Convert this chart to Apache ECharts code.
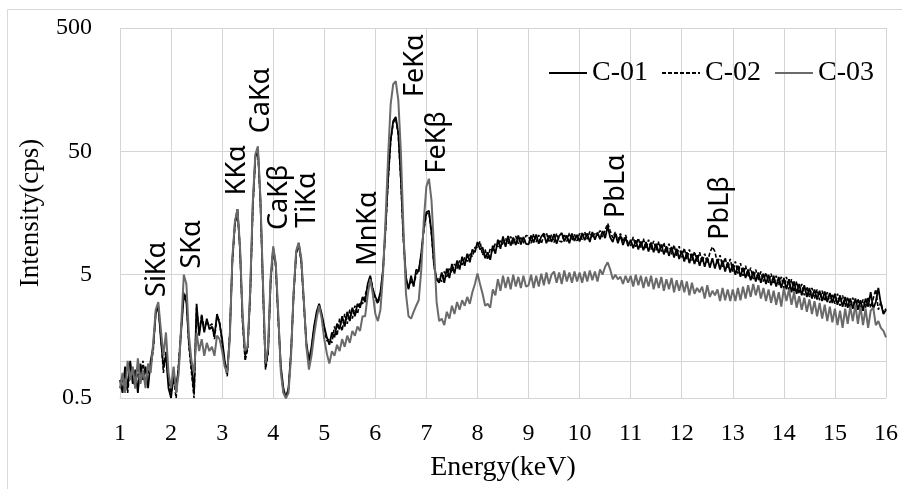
<!DOCTYPE html>
<html><head><meta charset="utf-8">
<script src="https://cdn.jsdelivr.net/npm/echarts@6/dist/echarts.min.js"></script>
<style>html,body{margin:0;padding:0;background:#fff}#c{width:902px;height:489px}</style>
</head><body><div id="c"></div>
<script>
// Energy axis samples (keV)
const energy = [
1,1.05,1.1,1.15,1.2,1.25,1.3,1.35,1.4,1.45,1.5,1.55,1.6,1.65,1.7,1.75,1.8,1.85,1.9,1.95,
2,2.05,2.1,2.15,2.2,2.25,2.3,2.35,2.4,2.45,2.5,2.55,2.6,2.65,2.7,2.75,2.8,2.85,2.9,2.95,
3,3.05,3.1,3.15,3.2,3.25,3.3,3.35,3.4,3.45,3.5,3.55,3.6,3.65,3.7,3.75,3.8,3.85,3.9,3.95,
4,4.05,4.1,4.15,4.2,4.25,4.3,4.35,4.4,4.45,4.5,4.55,4.6,4.65,4.7,4.75,4.8,4.85,4.9,4.95,
5,5.05,5.1,5.15,5.2,5.25,5.3,5.35,5.4,5.45,5.5,5.55,5.6,5.65,5.7,5.75,5.8,5.85,5.9,5.95,
6,6.05,6.1,6.15,6.2,6.25,6.3,6.35,6.4,6.45,6.5,6.55,6.6,6.65,6.7,6.75,6.8,6.85,6.9,6.95,
7,7.05,7.1,7.15,7.2,7.25,7.3,7.35,7.4,7.45,7.5,7.55,7.6,7.65,7.7,7.75,7.8,7.85,7.9,7.95,
8,8.05,8.1,8.15,8.2,8.25,8.3,8.35,8.4,8.45,8.5,8.55,8.6,8.65,8.7,8.75,8.8,8.85,8.9,8.95,
9,9.05,9.1,9.15,9.2,9.25,9.3,9.35,9.4,9.45,9.5,9.55,9.6,9.65,9.7,9.75,9.8,9.85,9.9,9.95,
10,10.05,10.1,10.15,10.2,10.25,10.3,10.35,10.4,10.45,10.5,10.55,10.6,10.65,10.7,10.75,10.8,10.85,10.9,10.95,
11,11.05,11.1,11.15,11.2,11.25,11.3,11.35,11.4,11.45,11.5,11.55,11.6,11.65,11.7,11.75,11.8,11.85,11.9,11.95,
12,12.05,12.1,12.15,12.2,12.25,12.3,12.35,12.4,12.45,12.5,12.55,12.6,12.65,12.7,12.75,12.8,12.85,12.9,12.95,
13,13.05,13.1,13.15,13.2,13.25,13.3,13.35,13.4,13.45,13.5,13.55,13.6,13.65,13.7,13.75,13.8,13.85,13.9,13.95,
14,14.05,14.1,14.15,14.2,14.25,14.3,14.35,14.4,14.45,14.5,14.55,14.6,14.65,14.7,14.75,14.8,14.85,14.9,14.95,
15,15.05,15.1,15.15,15.2,15.25,15.3,15.35,15.4,15.45,15.5,15.55,15.6,15.65,15.7,15.75,15.8,15.85,15.9,15.95,16
];
// C-01 intensity (cps)
const c01 = [
0.7,0.55,0.9,0.6,1.0,0.65,0.85,0.55,0.95,0.7,0.9,0.6,1.0,1.3,2.4,2.8,1.5,0.9,1.1,0.6,
0.5,0.8,0.6,0.9,1.8,3.4,3.0,1.4,0.9,0.55,2.9,1.6,2.3,1.7,2.2,1.8,1.9,1.6,2.4,2.0,
1.5,1.0,0.8,1.6,6.5,13,17,8,2.2,1.1,1.3,3.5,18,45,52,20,4,0.9,1.2,4.5,
8.2,6.0,2.2,0.9,0.6,0.5,0.6,1.2,3.5,7.5,9.0,6.5,3.0,1.4,1.0,1.3,1.9,2.5,2.9,2.4,
1.9,1.55,1.35,1.7,1.55,2.0,1.8,2.3,1.9,2.5,2.1,2.7,2.3,2.9,2.7,3.3,3.0,4.2,4.9,3.8,
3.3,3.0,3.6,5.5,12,30,62,88,95,70,30,10,4.8,3.8,4.9,4.0,5.5,5.3,7.5,12,
16,16.5,11,6,4.6,4.3,5.2,4.3,5.6,4.7,6.1,5.1,6.5,5.5,7.0,5.9,7.4,6.3,8.0,7.6,
9.2,8.0,8.3,6.8,7.6,6.6,8.6,7.4,9.6,8.1,10.2,8.4,10.3,8.6,10.0,8.7,10.4,8.8,10.1,8.9,
8.8,10.4,9.1,10.6,8.9,10.2,10.8,9.0,10.4,9.2,10.7,8.9,10.3,10.9,9.3,10.4,9.0,10.8,9.4,10.5,
9.3,10.9,9.5,10.8,9.2,11.1,9.6,11.0,9.7,11.3,9.9,12.4,10.0,9.2,10.8,9.0,10.4,8.7,10.0,8.5,
9.6,8.2,9.5,8.0,9.3,7.9,9.2,7.7,9.1,7.6,8.9,7.5,8.8,7.3,8.5,7.1,8.4,6.9,8.1,6.7,
7.8,6.4,7.6,6.2,7.4,6.1,7.2,5.9,7.0,5.8,6.9,5.7,6.8,5.6,6.7,5.5,6.5,5.3,6.3,5.2,
6.1,5.0,5.9,4.8,5.7,4.7,5.5,4.5,5.3,4.4,5.2,4.3,5.1,4.2,5.0,4.1,4.9,4.0,4.8,3.9,
4.7,3.8,4.6,3.6,4.4,3.5,4.2,3.4,4.1,3.3,3.9,3.2,3.8,3.15,3.7,3.05,3.65,3.0,3.55,2.95,
3.5,2.85,3.4,2.75,3.3,2.7,3.2,2.65,3.2,2.6,3.1,2.55,3.2,2.75,3.6,2.65,3.0,3.9,2.9,2.4,2.6
];
// C-02 intensity (cps)
const c02 = [
0.6,0.7,0.8,0.55,0.9,0.75,0.6,0.85,0.7,1.0,0.65,0.8,0.9,1.2,2.5,2.7,1.6,0.8,1.2,0.7,
0.55,0.7,0.5,1.0,1.9,3.6,3.2,1.3,0.8,0.5,2.7,1.7,2.4,1.8,2.1,1.9,2.0,1.5,2.3,2.1,
1.4,0.95,0.75,1.7,6.3,12.5,16.5,8.2,2.1,1.0,1.25,3.4,17,44,51,19,3.8,0.85,1.15,4.3,
8.0,5.8,2.1,0.85,0.55,0.5,0.6,1.15,3.4,7.3,8.8,6.3,2.9,1.35,0.95,1.25,1.85,2.4,2.8,2.3,
1.8,1.45,1.5,1.4,1.9,1.6,2.2,1.75,2.4,2.0,2.6,2.2,2.8,2.4,3.0,2.9,3.4,4.0,4.8,3.9,
3.2,2.9,3.5,5.3,11.5,29,60,85,92,68,29,9.5,4.6,3.9,4.4,4.1,5.0,5.4,7.2,11.5,
15.5,16,10.5,5.8,4.5,4.7,4.4,5.3,4.8,5.7,5.2,6.1,5.6,6.5,6.0,6.9,6.4,7.5,7.0,8.3,
8.4,9.3,7.2,8.0,6.6,8.2,7.8,9.0,8.4,9.6,8.7,9.9,8.9,10.2,8.8,10.3,8.9,10.2,9.0,10.4,
10.3,9.0,10.7,9.2,10.5,8.9,10.4,10.9,9.3,10.6,9.1,10.8,9.4,9.2,10.7,9.3,10.9,9.5,10.6,9.4,
10.8,9.6,11.1,9.7,11.2,9.9,11.0,10.4,11.4,10.1,11.5,13.0,11.3,9.9,11.1,9.5,10.8,9.2,10.5,9.0,
8.6,10.1,8.4,9.9,8.3,9.8,8.1,9.6,8.0,9.4,7.9,9.3,7.7,9.1,7.5,8.9,7.3,8.7,7.1,8.5,
6.9,8.2,6.7,8.0,6.5,7.7,6.4,7.6,6.3,7.4,6.2,7.5,8.4,7.7,6.1,7.2,5.8,6.9,5.6,6.7,
5.3,6.4,5.1,6.2,4.9,5.9,4.8,5.7,4.6,5.5,4.5,5.3,4.4,5.2,4.3,5.1,4.2,4.9,4.1,4.8,
3.9,4.8,3.7,4.6,3.6,4.4,3.5,4.2,3.4,4.0,3.3,3.9,3.2,3.8,3.1,3.7,3.05,3.6,2.95,3.5,
2.9,3.5,2.8,3.4,2.75,3.3,2.7,3.25,2.65,3.2,2.6,3.15,2.7,3.3,2.7,3.2,3.8,2.6,3.0,2.45,2.65
];
// C-03 intensity (cps)
const c03 = [
0.6,0.8,0.55,1.0,0.7,0.9,0.6,1.05,0.65,0.85,0.6,0.95,0.8,1.4,2.6,3.0,1.8,1.1,1.7,0.8,
0.6,0.9,0.55,0.8,2.0,5.0,4.2,1.6,1.0,0.8,1.7,1.2,1.5,1.1,1.4,1.2,1.3,1.1,1.6,1.5,
1.2,0.9,0.8,1.5,6.8,13.5,17,8.5,2.4,1.2,1.3,3.8,19,47,55,21,4.3,0.95,1.3,4.8,
8.5,6.2,2.4,0.8,0.55,0.5,0.55,1.1,3.6,7.8,9.1,6.8,3.1,1.3,0.85,1.1,1.6,2.2,2.8,2.2,
1.5,1.15,0.95,1.2,1.1,1.35,1.2,1.5,1.3,1.6,1.4,1.75,1.6,1.9,1.75,2.3,2.3,3.4,4.6,3.5,
2.4,2.1,2.6,5.0,14,45,120,175,185,130,50,12,3.5,2.3,2.2,2.5,2.8,3.1,5.5,14,
26,30,20,8,3,2.1,2.2,1.95,2.5,2.2,2.8,2.4,3.0,2.6,3.1,2.8,3.3,2.9,3.6,4.2,
5.1,4.2,3.5,2.8,2.9,2.7,3.8,3.4,4.6,3.7,4.9,3.9,4.8,3.8,5.0,4.0,4.8,3.9,4.9,4.0,
4.1,5.0,3.9,4.9,4.0,5.1,4.1,5.2,4.2,5.0,5.3,4.3,5.2,4.2,5.4,4.4,5.2,4.3,5.3,4.4,
5.2,4.3,5.3,4.4,5.4,4.5,5.3,4.4,5.5,5.0,5.8,6.3,5.5,4.6,5.0,4.6,4.8,4.2,4.9,4.3,
4.9,4.0,5.0,4.1,4.9,3.9,4.8,4.0,4.9,3.8,4.7,3.9,4.8,3.7,4.6,3.8,4.7,3.6,4.5,3.7,
4.5,3.6,4.4,3.4,4.3,3.5,3.9,3.6,4.0,3.2,4.1,3.3,3.7,3.4,3.8,3.05,3.9,3.1,3.8,3.05,
3.8,3.05,3.9,3.1,4.0,3.2,4.1,3.3,4.2,3.4,4.1,3.2,3.9,3.05,3.8,2.95,3.7,2.85,3.6,2.75,
3.9,3.05,3.8,2.85,3.6,2.7,3.35,2.6,3.25,2.5,3.15,2.4,3.05,2.3,2.95,2.2,2.85,2.1,2.75,2.05,
2.65,1.95,2.55,1.85,2.65,2.0,2.75,2.1,2.85,2.0,2.75,1.95,2.65,1.85,2.55,2.7,1.95,2.1,1.85,1.75,1.55
];
const seriesNames = ['C-01', 'C-02', 'C-03'];
const yMin = 0.5, yMax = 500;
const xMin = 1, xMax = 16;
const extraGridValue = 1;
// Peak annotations: name, energy (keV), intensity at label foot
const peakNames = ['SiKα','SKα','KKα','CaKα','CaKβ','TiKα','MnKα','FeKα','FeKβ','PbLα','PbLβ'];
const peakEnergy = [1.73, 2.41, 3.29, 3.76, 4.12, 4.67, 5.86, 6.78, 7.21, 10.71, 12.75];
const peakLabelBase = [3.3, 5.6, 22, 70, 11.5, 12, 5.9, 138, 33, 14.4, 9.6];

const chart = echarts.init(document.getElementById('c'), null, {renderer: 'canvas'});
const pairs = ys => energy.map((e, i) => [e, ys[i]]);
const serif = '"Liberation Serif", "Times New Roman", serif';
const gridColor = '#d4d4d4';

const option = {
  animation: false,
  backgroundColor: '#fff',
  grid: {left: 120, right: 16, top: 28, bottom: 91, containLabel: false},
  legend: {
    data: seriesNames, left: 543, top: 54, itemWidth: 38, itemHeight: 14, itemGap: 13,
    itemStyle: {opacity: 0},
    textStyle: {fontFamily: serif, fontSize: 28, color: '#000'}
  },
  xAxis: {
    type: 'value', min: xMin, max: xMax, interval: 1,
    name: 'Energy(keV)', nameLocation: 'middle', nameGap: 56,
    nameTextStyle: {fontFamily: serif, fontSize: 28, color: '#000'},
    axisLine: {show: true, lineStyle: {color: gridColor}},
    axisTick: {show: false},
    axisLabel: {fontFamily: serif, fontSize: 24, color: '#000', margin: 24},
    splitLine: {show: true, lineStyle: {color: gridColor, width: 1}}
  },
  yAxis: {
    type: 'log', logBase: 10, min: yMin, max: yMax, interval: 1,
    name: 'Intensity(cps)', nameLocation: 'middle', nameGap: 76,
    nameTextStyle: {fontFamily: serif, fontSize: 27, color: '#000'},
    axisLine: {show: false}, axisTick: {show: false},
    axisLabel: {fontFamily: serif, fontSize: 24, color: '#000', margin: 28,
      formatter: v => String(Number(Number(v).toPrecision(1)))},
    splitLine: {show: true, lineStyle: {color: gridColor, width: 1}}
  },
  series: [
    {name: seriesNames[0], type: 'line', data: pairs(c01), symbol: 'none', showSymbol: false,
     lineStyle: {color: '#000', width: 1.8}, itemStyle: {color: '#000'}, z: 3,
     markLine: {silent: true, symbol: 'none', label: {show: false},
       lineStyle: {color: gridColor, type: 'solid', width: 1}, data: [{yAxis: extraGridValue}], z: 1}},
    {name: seriesNames[1], type: 'line', data: pairs(c02), symbol: 'none', showSymbol: false,
     lineStyle: {color: '#000', width: 1.6, type: [4, 2]}, itemStyle: {color: '#000'}, z: 4},
    {name: seriesNames[2], type: 'line', data: pairs(c03), symbol: 'none', showSymbol: false,
     lineStyle: {color: '#6a6a6a', width: 2}, itemStyle: {color: '#6a6a6a'}, z: 5}
  ]
};
chart.setOption(option);

const labels = peakNames.map((n, i) => {
  const p = chart.convertToPixel({gridIndex: 0}, [peakEnergy[i], peakLabelBase[i]]);
  return {
    type: 'text', x: p[0], y: p[1], rotation: Math.PI / 2, z: 20, silent: true,
    style: {text: n, fontFamily: '"Noto Sans", "Open Sans", sans-serif', fontSize: 27, fill: '#000',
      align: 'left', verticalAlign: 'middle', textAlign: 'left', textVerticalAlign: 'middle'}
  };
});
labels.push({type: 'rect', z: 0, silent: true,
  shape: {x: 7.5, y: 9.5, width: 900, height: 490},
  style: {fill: null, stroke: '#d9d9d9', lineWidth: 1}});
chart.setOption({graphic: labels});
</script></body></html>
